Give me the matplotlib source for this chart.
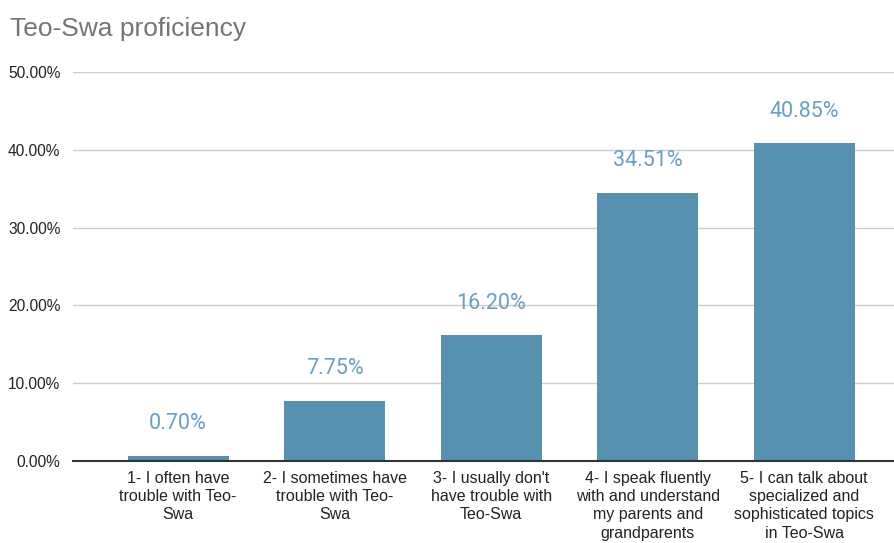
import matplotlib
matplotlib.use("Agg")
import matplotlib.pyplot as plt
from matplotlib.ticker import FuncFormatter

# ── data ──
categories = [
    "1- I often have\ntrouble with Teo-\nSwa",
    "2- I sometimes have\ntrouble with Teo-\nSwa",
    "3- I usually don't\nhave trouble with\nTeo-Swa",
    "4- I speak fluently\nwith and understand\nmy parents and\ngrandparents",
    "5- I can talk about\nspecialized and\nsophisticated topics\nin Teo-Swa",
]
values = [0.70, 7.75, 16.20, 34.51, 40.85]
y_ticks = [0, 10, 20, 30, 40, 50]

BAR_COLOR = "#5891b0"
LABEL_COLOR = "#6a9fbf"

fig = plt.figure(figsize=(8.95, 5.43), dpi=100)
ax = fig.add_axes([73 / 895, 1 - 461 / 543, 1 - 73 / 895, (461 - 72) / 543])

xs = list(range(len(values)))
bars = ax.bar(xs, values, width=0.645, color=BAR_COLOR, zorder=3)

for x, v in zip(xs, values):
    ax.annotate("{:.2f}%".format(v), (x, v), xytext=(0, 23), textcoords="offset points",
                ha="center", va="center", fontsize=15.5, color=LABEL_COLOR,
                family=["Roboto", "DejaVu Sans"])

ax.set_xlim(-0.671, 4.58)
ax.set_ylim(0, 50)
ax.set_yticks(y_ticks)
ax.yaxis.set_major_formatter(FuncFormatter(lambda v, p: "{:.2f}%".format(v)))
ax.set_xticks(xs)
ax.set_xticklabels(categories, fontsize=11.5, family="Liberation Sans", color="#222222",
                   linespacing=1.28)
for lab in ax.get_yticklabels():
    lab.set_fontsize(11.2)
    lab.set_family("Liberation Sans")
    lab.set_color("#222222")

ax.tick_params(axis="x", length=0, pad=7)
ax.tick_params(axis="y", length=0, pad=9)
ax.grid(axis="y", color="#cccccc", linewidth=1, zorder=0)
for s in ["top", "right", "left"]:
    ax.spines[s].set_visible(False)
ax.spines["bottom"].set_color("#333333")
ax.spines["bottom"].set_linewidth(1.5)
ax.spines["bottom"].set_zorder(4)

fig.text(10 / 895, 1 - 29 / 543, "Teo-Swa proficiency", fontsize=19, color="#757575",
         family="Liberation Sans", va="center", ha="left")

fig.savefig("out.png", dpi=100)
